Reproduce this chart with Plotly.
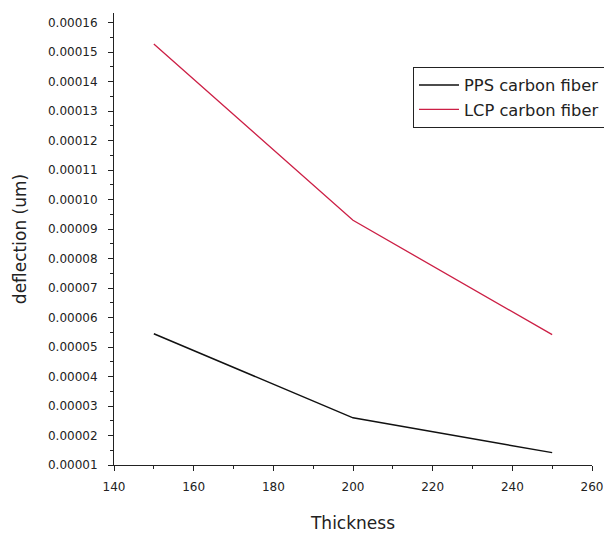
import plotly.graph_objects as go

thickness = [150, 200, 250]
pps_carbon = [0.0000545, 0.0000260, 0.0000142]
lcp_carbon = [0.0001528, 0.0000930, 0.0000542]

font_family = "DejaVu Sans, sans-serif"

fig = go.Figure()
fig.add_trace(go.Scatter(x=thickness, y=pps_carbon, mode="lines", name="PPS carbon fiber",
                         line=dict(color="#111111", width=1.5)))
fig.add_trace(go.Scatter(x=thickness, y=lcp_carbon, mode="lines", name="LCP carbon fiber",
                         line=dict(color="#cc1f45", width=1.3)))

# page body has an 8px margin, so the figure is 8px smaller and shifted
fig.update_layout(
    width=604, height=526,
    margin=dict(l=106, r=20, t=5, b=69),
    paper_bgcolor="white", plot_bgcolor="white",
    font=dict(family=font_family, size=12, color="#222222"),
    showlegend=True,
    legend=dict(x=0.6255, y=0.8805, xanchor="left", yanchor="top",
                bgcolor="white", bordercolor="#222222", borderwidth=1,
                font=dict(size=16.3, color="#222222"),
                tracegroupgap=0, itemwidth=40),
    xaxis=dict(
        title=dict(text="Thickness", font=dict(size=17), standoff=23),
        range=[140, 260], dtick=20, tick0=140, automargin=False,
        showline=True, linecolor="#222222", linewidth=1,
        ticks="outside", ticklen=5, tickcolor="#222222", ticklabelstandoff=6,
        minor=dict(dtick=10, ticks="outside", ticklen=3, tickcolor="#222222"),
        showgrid=False, zeroline=False,
    ),
    yaxis=dict(
        title=dict(text="deflection (um)", font=dict(size=17), standoff=17),
        range=[0.00001, 0.0001633], dtick=0.00001, tick0=0.00001, automargin=False,
        tickformat=".5f",
        showline=True, linecolor="#222222", linewidth=1,
        ticks="outside", ticklen=5, tickcolor="#222222", ticklabelstandoff=8,
        minor=dict(dtick=0.000005, ticks="outside", ticklen=3, tickcolor="#222222"),
        showgrid=False, zeroline=False,
    ),
)

fig.write_html("out.html")
